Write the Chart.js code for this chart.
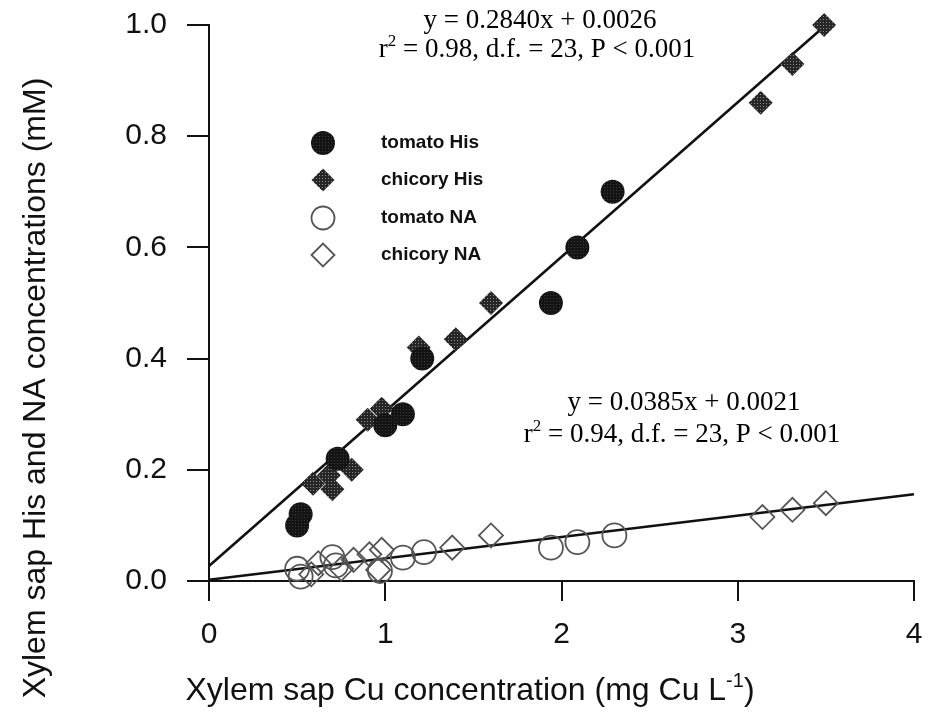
<!DOCTYPE html>
<html>
<head>
<meta charset="utf-8">
<title>Xylem sap His and NA vs Cu</title>
<script src="https://cdn.jsdelivr.net/npm/chart.js@4.4.0/dist/chart.umd.min.js"></script>
<style>
  html, body { margin: 0; padding: 0; background: #fff; }
  #wrap { width: 932px; height: 717px; }
</style>
</head>
<body>
<div id="wrap"><canvas id="chart" width="932" height="717"></canvas></div>
<script>
/* ===== Data ===== */
const tomatoHisX = [0.50, 0.52, 0.73, 1.00, 1.10, 1.21, 1.94, 2.09, 2.29];
const tomatoHisY = [0.10, 0.12, 0.22, 0.28, 0.30, 0.40, 0.50, 0.60, 0.70];

const chicoryHisX = [0.59, 0.68, 0.70, 0.81, 0.90, 0.98, 1.19, 1.40, 1.60, 3.13, 3.31, 3.49];
const chicoryHisY = [0.175, 0.19, 0.165, 0.20, 0.29, 0.31, 0.42, 0.435, 0.50, 0.86, 0.93, 1.00];

const tomatoNAX = [0.50, 0.52, 0.70, 0.72, 0.97, 1.10, 1.22, 1.94, 2.09, 2.30];
const tomatoNAY = [0.022, 0.008, 0.043, 0.028, 0.018, 0.042, 0.052, 0.060, 0.070, 0.082];

const chicoryNAX = [0.58, 0.62, 0.75, 0.82, 0.91, 0.98, 0.96, 1.38, 1.60, 3.14, 3.31, 3.50];
const chicoryNAY = [0.012, 0.032, 0.022, 0.038, 0.048, 0.056, 0.020, 0.060, 0.082, 0.115, 0.128, 0.140];

// regression lines as drawn in the figure (end points)
const hisLineX = [0, 3.5];
const hisLineY = [0.027, 1.0];
const naLineX = [0, 4];
const naLineY = [0.0021, 0.156];

const xTicks = [0, 1, 2, 3, 4];
const yTicks = [0.0, 0.2, 0.4, 0.6, 0.8, 1.0];

const legendLabels = ['tomato His', 'chicory His', 'tomato NA', 'chicory NA'];

/* ===== Helpers ===== */
const pts = (xs, ys) => xs.map((x, i) => ({ x: x, y: ys[i] }));

const canvas = document.getElementById('chart');
const mainCtx = canvas.getContext('2d');

// halftone-ish fill like the scanned markers
function stipple(base, dot) {
  const t = document.createElement('canvas');
  t.width = 3; t.height = 3;
  const g = t.getContext('2d');
  g.fillStyle = base; g.fillRect(0, 0, 3, 3);
  g.fillStyle = dot; g.fillRect(1, 1, 1, 1);
  return mainCtx.createPattern(t, 'repeat');
}
const circleFill = stipple('#141414', '#3a3a3a');
const diamondFill = stipple('#262626', '#8c8c8c');

const ink = '#111';
const openInk = '#555';
const sans = "'Liberation Sans', Arial, sans-serif";
const serif = "'Liberation Serif', 'Times New Roman', serif";

function richText(ctx, parts, cx, y, size, family, color) {
  let w = 0;
  parts.forEach(p => {
    ctx.font = (p[1] ? Math.round(size * 0.62) : size) + 'px ' + family;
    w += ctx.measureText(p[0]).width;
  });
  let x = cx - w / 2;
  ctx.fillStyle = color;
  ctx.textAlign = 'left';
  ctx.textBaseline = 'alphabetic';
  parts.forEach(p => {
    ctx.font = (p[1] ? Math.round(size * 0.62) : size) + 'px ' + family;
    ctx.fillText(p[0], x, p[1] ? y - size * 0.4 : y);
    x += ctx.measureText(p[0]).width;
  });
}

function marker(ctx, style, x, y, r, fill, stroke, lw) {
  ctx.beginPath();
  if (style === 'circle') ctx.arc(x, y, r, 0, Math.PI * 2);
  else { ctx.moveTo(x - r, y); ctx.lineTo(x, y - r); ctx.lineTo(x + r, y); ctx.lineTo(x, y + r); ctx.closePath(); }
  if (fill) { ctx.fillStyle = fill; ctx.fill(); }
  if (stroke) { ctx.strokeStyle = stroke; ctx.lineWidth = lw; ctx.stroke(); }
}

/* ===== Annotations: titles, equations, legend ===== */
const annotations = {
  id: 'annotations',
  afterDraw(chart) {
    const ctx = chart.ctx;
    ctx.save();

    // y axis title
    ctx.save();
    ctx.translate(45, 388);
    ctx.rotate(-Math.PI / 2);
    ctx.font = '32px ' + sans;
    ctx.fillStyle = ink;
    ctx.textAlign = 'center';
    ctx.textBaseline = 'alphabetic';
    ctx.fillText('Xylem sap His and NA concentrations (mM)', 0, 0);
    ctx.restore();

    // x axis title
    richText(ctx, [['Xylem sap Cu concentration (mg Cu L'], ['-1', true], [')']], 470, 700, 32, sans, ink);

    // regression equations
    richText(ctx, [['y = 0.2840x + 0.0026']], 540, 28, 27, serif, '#000');
    richText(ctx, [['r'], ['2', true], [' = 0.98, d.f. = 23, P < 0.001']], 537, 57, 27, serif, '#000');
    richText(ctx, [['y = 0.0385x + 0.0021']], 684, 410, 27, serif, '#000');
    richText(ctx, [['r'], ['2', true], [' = 0.94, d.f. = 23, P < 0.001']], 682, 442, 27, serif, '#000');

    // legend
    const ly = [143, 180, 218, 255];
    marker(ctx, 'circle', 323, ly[0], 12, circleFill, null, 0);
    marker(ctx, 'diamond', 323, ly[1], 11.5, diamondFill, null, 0);
    marker(ctx, 'circle', 323, ly[2], 11.5, null, openInk, 1.8);
    marker(ctx, 'diamond', 323, ly[3], 11.5, null, openInk, 1.8);
    ctx.font = 'bold 19px ' + sans;
    ctx.fillStyle = ink;
    ctx.textAlign = 'left';
    ctx.textBaseline = 'middle';
    legendLabels.forEach((t, i) => ctx.fillText(t, 381, ly[i]));

    ctx.restore();
  }
};

/* ===== Chart ===== */
new Chart(canvas, {
  type: 'scatter',
  data: {
    datasets: [
      {
        label: 'tomato His', data: pts(tomatoHisX, tomatoHisY),
        pointStyle: 'circle', pointRadius: 12, backgroundColor: circleFill,
        borderWidth: 0, clip: false
      },
      {
        label: 'chicory His', data: pts(chicoryHisX, chicoryHisY),
        pointStyle: 'rectRot', pointRadius: 12, backgroundColor: diamondFill,
        borderWidth: 0, clip: false
      },
      {
        label: 'tomato NA', data: pts(tomatoNAX, tomatoNAY),
        pointStyle: 'circle', pointRadius: 12, backgroundColor: 'rgba(0,0,0,0)',
        borderColor: openInk, borderWidth: 1.8, clip: false
      },
      {
        label: 'chicory NA', data: pts(chicoryNAX, chicoryNAY),
        pointStyle: 'rectRot', pointRadius: 12, backgroundColor: 'rgba(0,0,0,0)',
        borderColor: openInk, borderWidth: 1.8, clip: false
      },
      {
        type: 'line', label: 'His fit', data: pts(hisLineX, hisLineY),
        borderColor: ink, borderWidth: 2.6, pointRadius: 0, fill: false, clip: false
      },
      {
        type: 'line', label: 'NA fit', data: pts(naLineX, naLineY),
        borderColor: ink, borderWidth: 2.6, pointRadius: 0, fill: false, clip: false
      }
    ]
  },
  options: {
    responsive: false,
    devicePixelRatio: 1,
    animation: false,
    events: [],
    layout: { padding: { top: 25, right: 18, left: 0, bottom: 0 } },
    plugins: { legend: { display: false }, tooltip: { enabled: false } },
    scales: {
      x: {
        type: 'linear', min: 0, max: 4,
        afterFit: s => { s.height = 136; s.paddingLeft = 0; s.paddingRight = 0; },
        afterBuildTicks: s => { s.ticks = xTicks.map(v => ({ value: v })); },
        grid: { drawOnChartArea: false, drawTicks: true, tickLength: 20, color: ink, lineWidth: 2 },
        border: { display: true, color: ink, width: 2 },
        ticks: { color: ink, padding: 16, font: { family: sans, size: 30 }, callback: v => String(v) }
      },
      y: {
        type: 'linear', min: 0, max: 1,
        afterFit: s => { s.width = 209; s.paddingTop = 0; s.paddingBottom = 0; },
        afterBuildTicks: s => { s.ticks = yTicks.map(v => ({ value: v })); },
        grid: { drawOnChartArea: false, drawTicks: true, tickLength: 22, color: ink, lineWidth: 2 },
        border: { display: true, color: ink, width: 2 },
        ticks: { color: ink, padding: 20, font: { family: sans, size: 30 }, callback: v => v.toFixed(1) }
      }
    }
  },
  plugins: [annotations]
});
</script>
</body>
</html>
